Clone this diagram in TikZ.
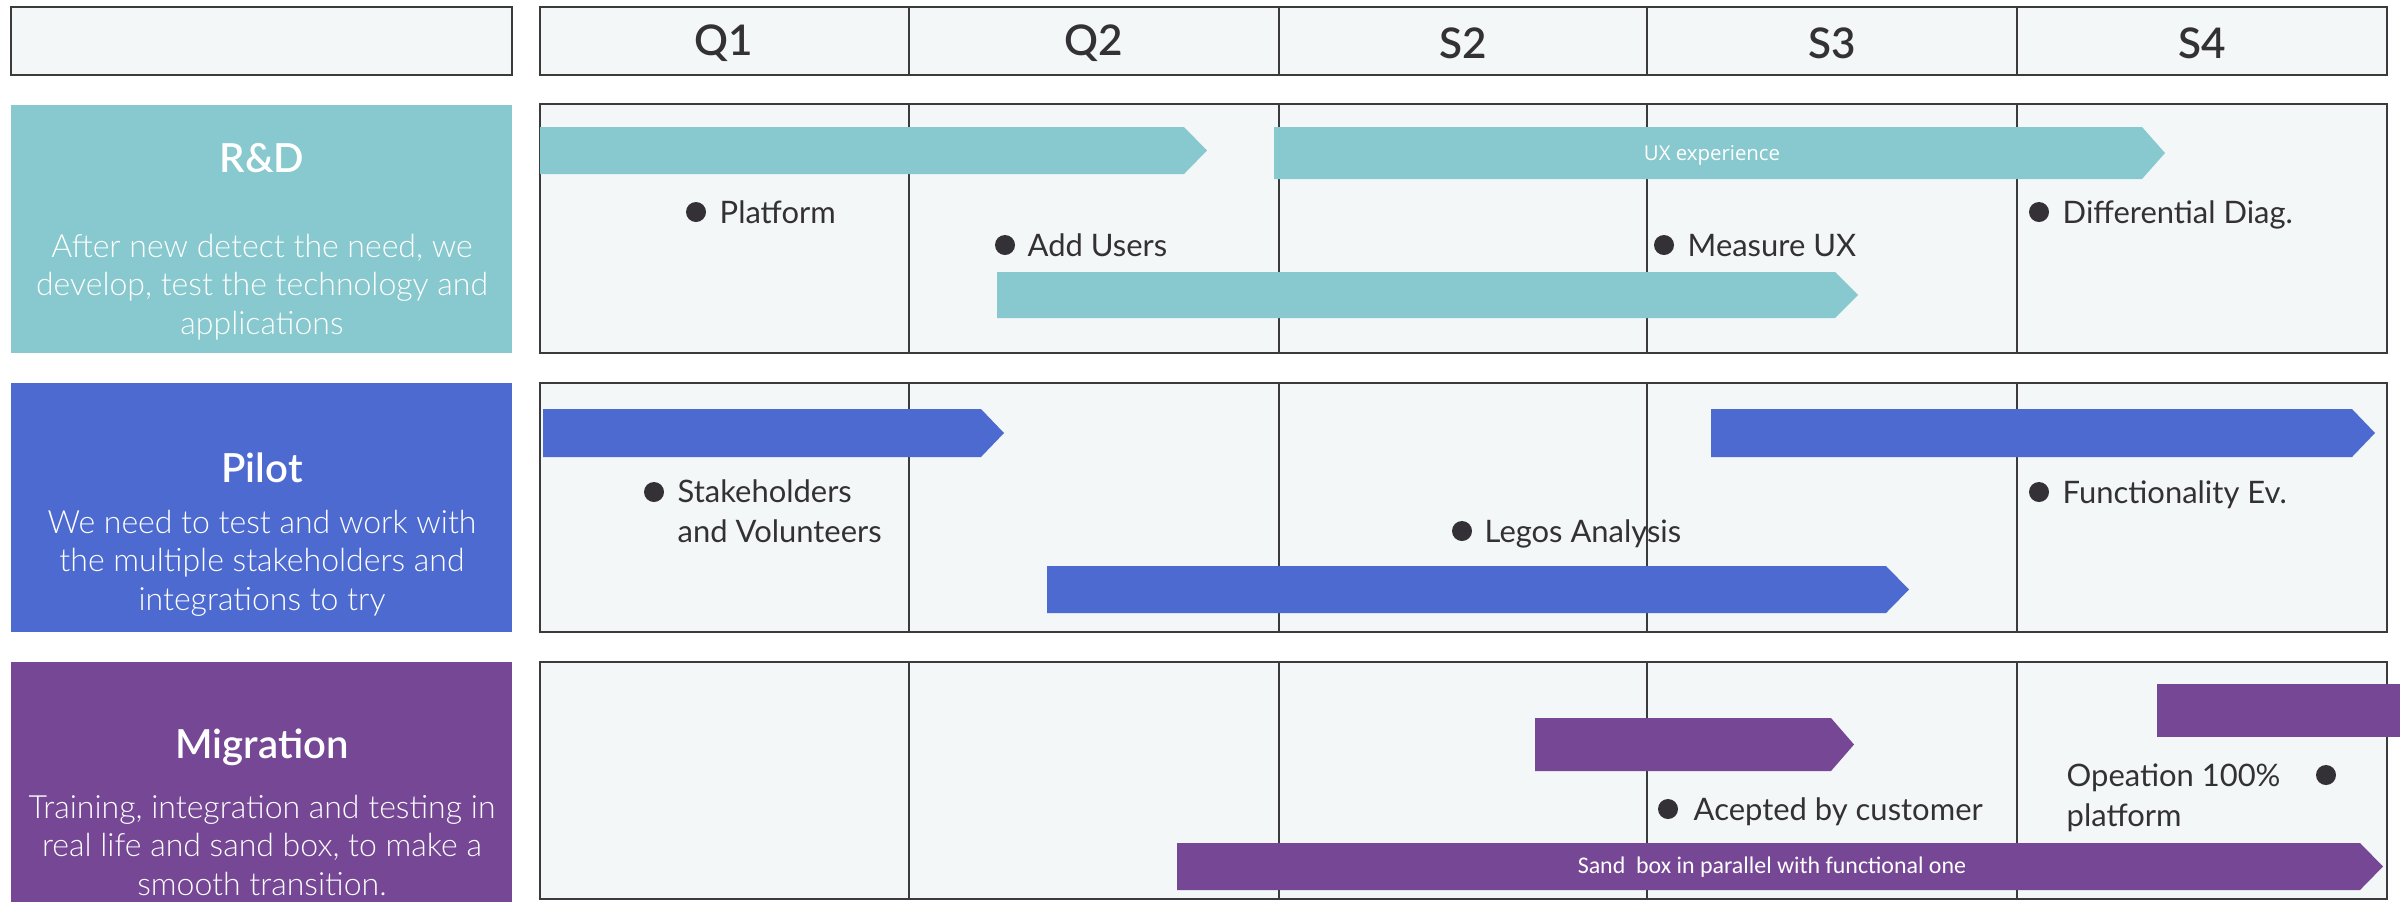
\documentclass[tikz,border=0pt]{standalone}
\usepackage{fontspec}
\setmainfont{Lato}
\IfFontExistsTF{Lato Light}{\newfontfamily\lightfont{Lato Light}}{\newfontfamily\lightfont{Lato}}
\IfFontExistsTF{Lato Semibold}{\newfontfamily\semifont{Lato Semibold}}{\newcommand\semifont{\bfseries}}
\newfontfamily\calfont{Carlito}
\newfontfamily\uxfont{Open Sans}
\definecolor{rdteal}{HTML}{87C9CE}
\definecolor{pilotblue}{HTML}{4D6AD0}
\definecolor{migpurple}{HTML}{754794}
\definecolor{paper}{HTML}{F3F7F8}
\definecolor{linegray}{HTML}{3B3A3D}
\definecolor{ink}{HTML}{333135}
\tikzset{
  gridbox/.style={draw=linegray,line width=0.8pt,fill=paper},
  divider/.style={draw=linegray,line width=0.55pt},
  colhead/.style={font=\semifont\fontsize{12}{14}\selectfont,text=ink},
  rowtitle/.style={font=\semifont\fontsize{11.4}{13}\selectfont,text=white},
  rowtext/.style={font=\lightfont\fontsize{9.1}{10.95}\selectfont,text=white,align=center},
  ms/.style={font=\fontsize{8.8}{11.1}\selectfont,text=ink,anchor=base west,inner sep=0pt,align=left},
  msdot/.style={circle,fill=ink,inner sep=0pt,minimum size=0.2cm},
  bartext/.style={text=white,inner sep=0pt}
}
\newcommand{\roadbar}[5]{\fill[#1] (#2,#4) -- (#3,#4) -- ++(23,{(#5-#4)/2}) -- (#3,#5) -- (#2,#5) -- cycle;}
\begin{document}
\begin{tikzpicture}[x=0.01cm,y=-0.01cm]
\useasboundingbox (0,0) rectangle (2400,902);
\draw[gridbox] (11,7) rectangle (512,75);
\foreach \top/\bot in {7/75,104/353,383/632,662/899}{
  \draw[gridbox] (540,\top) rectangle (2387,\bot);
  \foreach \x in {909,1279,1647,2017} \draw[divider] (\x,\top) -- (\x,\bot);
}
\foreach \x/\lab in {724/Q1,1094/Q2,1463/S2,1832/S3,2202/S4}
  \node[colhead] (h\lab) at (\x,43) {\lab};
\fill[rdteal] (11,105) rectangle (512,353);
\fill[pilotblue] (11,383) rectangle (512,632);
\fill[migpurple] (11,662) rectangle (512,902);
\node[rowtitle] (rdtitle) at (262,158) {R\&D};
\node[rowtext] (rdtext) at (262,287) {After new detect the need, we\\develop, test the technology and\\applications};
\node[rowtitle] (pilottitle) at (262,468) {Pilot};
\node[rowtext] (pilottext) at (262,563) {We need to test and work with\\the multiple stakeholders and\\integrations to try};
\node[rowtitle] (migtitle) at (262,747) {Migration};
\node[rowtext] (migtext) at (262,845) {Training, integration and testing in\\real life and sand box, to make a\\smooth transition.};
\roadbar{rdteal}{540}{1184}{127}{174}
\roadbar{rdteal}{1274}{2142}{127}{179}
\roadbar{rdteal}{997}{1835}{272}{318}
\node[bartext,font=\uxfont\fontsize{5.8}{6}\selectfont] (uxlabel) at (1712,155) {UX experience};
\roadbar{pilotblue}{543}{981}{409}{457}
\roadbar{pilotblue}{1711}{2352}{409}{457}
\roadbar{pilotblue}{1047}{1886}{566}{613}
\roadbar{migpurple}{1535}{1831}{718}{771}
\fill[migpurple] (2157,684) rectangle (2400,737);
\roadbar{migpurple}{1177}{2360}{843}{890}
\node[bartext,font=\calfont\fontsize{6.8}{7}\selectfont] (sandlabel) at (1772,867) {Sand\ \ box in parallel with functional one};
\node[msdot] (platdot) at (696,212) {};
\node[ms] (plat) at (719,223) {Platform};
\node[msdot] (usersdot) at (1005,245) {};
\node[ms] (users) at (1027,256) {Add Users};
\node[msdot] (uxdot) at (1664,245) {};
\node[ms] (ux) at (1687,256) {Measure UX};
\node[msdot] (diagdot) at (2039,212) {};
\node[ms] (diag) at (2062,223) {Differential Diag.};
\node[msdot] (stakedot) at (654,492) {};
\node[ms] (stake) at (677,542) {Stakeholders\\and Volunteers};
\node[msdot] (legosdot) at (1462,531) {};
\node[ms] (legos) at (1484,542) {Legos Analysis};
\node[msdot] (funcdot) at (2039,492) {};
\node[ms] (func) at (2062,503) {Functionality Ev.};
\node[msdot] (acceptdot) at (1668,809) {};
\node[ms] (accept) at (1693,820) {Acepted by customer};
\node[ms] (oper) at (2066,826) {Opeation 100\%\\platform};
\node[msdot] (operdot) at (2326,775) {};
\end{tikzpicture}
\end{document}
